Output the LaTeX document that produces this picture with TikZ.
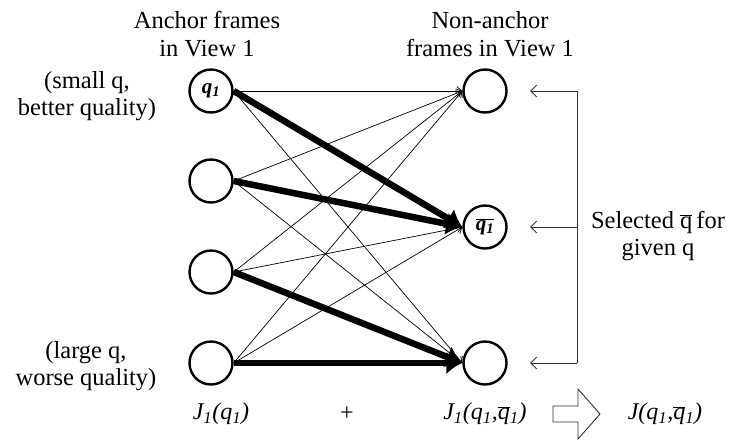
\documentclass[tikz,border=0pt]{standalone}
\usepackage{fontspec}
\setmainfont{Liberation Serif}
\usetikzlibrary{arrows.meta}
\begin{document}
\begin{tikzpicture}[x=1pt,y=-1pt,
  frame/.style={circle,draw,line width=2.4pt,minimum size=43pt,inner sep=0pt,font=\fontsize{21}{24}\selectfont},
  lbl/.style={align=center,font=\fontsize{24.5}{27.5}\selectfont,inner sep=0pt},
  eq/.style={font=\fontsize{24}{27}\selectfont,inner sep=0pt},
  thin/.style={line width=0.7pt,-{Straight Barb[length=5pt,width=9pt]}},
  thick/.style={line width=6.5pt,-{Latex[length=16pt,width=23pt]}},
  sel/.style={line width=0.9pt,draw=black!80,-{Straight Barb[length=6pt,width=12pt]}}]
\useasboundingbox (0,0) rectangle (735,445);
% left column
\node[frame] (L1) at (211,91) {\textbf{\textit{q\textsubscript{1}}}};
\node[frame] (L2) at (211,181) {};
\node[frame] (L3) at (211,272) {};
\node[frame] (L4) at (211,363) {};
% right column
\node[frame] (R1) at (485,91) {};
\node[frame] (R2) at (485,227) {$\overline{\mbox{\textbf{\textit{q\textsubscript{1}}}}}$};
\node[frame] (R3) at (485,363) {};
% thin connectors
\draw[thin] (L1.east) -- (R1.west);
\draw[thin] (L1.east) -- (R3.west);
\draw[thin] (L2.east) -- (R1.west);
\draw[thin] (L2.east) -- (R3.west);
\draw[thin] (L3.east) -- (R1.west);
\draw[thin] (L3.east) -- (R2.west);
\draw[thin] (L4.east) -- (R1.west);
\draw[thin] (L4.east) -- (R2.west);
% thick connectors
\draw[thick] (L1.east) -- (R2.west);
\draw[thick] (L2.east) -- (R2.west);
\draw[thick] (L3.east) -- (R3.west);
\draw[thick] (L4.east) -- (R3.west);
% bracket
\coordinate (B1) at (577,91);
\coordinate (B2) at (577,227);
\coordinate (B3) at (577,363);
\coordinate (A1) at (530,91);
\coordinate (A2) at (530,227);
\coordinate (A3) at (530,363);
\draw[line width=0.9pt,draw=black!80] (B1) -- (B3);
\draw[sel] (B1) -- (A1);
\draw[sel] (B2) -- (A2);
\draw[sel] (B3) -- (A3);
% labels
\node[lbl] (tl) at (207,34) {Anchor frames\\in View 1};
\node[lbl] (tr) at (490,34) {Non-anchor\\frames in View 1};
\node[lbl] (sm) at (87,96) {(small q,\\better quality)};
\node[lbl] (lg) at (86,366) {(large q,\\worse quality)};
\node[lbl] (sl) at (658,236) {Selected $\overline{\mbox{q}}$\,for\\given q};
% bottom equation
\node[eq] (j1) at (221,414) {\textit{J\textsubscript{1}(q\textsubscript{1})}};
\node[eq] (pl) at (347,414) {+};
\node[eq] (j2) at (485,414) {\textit{J\textsubscript{1}(q\textsubscript{1},$\overline{\mbox{\textit{q}}}$\textsubscript{1})}};
\node[eq] (j3) at (665,414) {\textit{J(q\textsubscript{1},$\overline{\mbox{\textit{q}}}$\textsubscript{1})}};
\draw[line width=0.9pt,draw=black!80] (553,406) -- (578,406) -- (578,389) -- (600,414) -- (578,439) -- (578,422) -- (553,422) -- cycle;
\end{tikzpicture}
\end{document}
